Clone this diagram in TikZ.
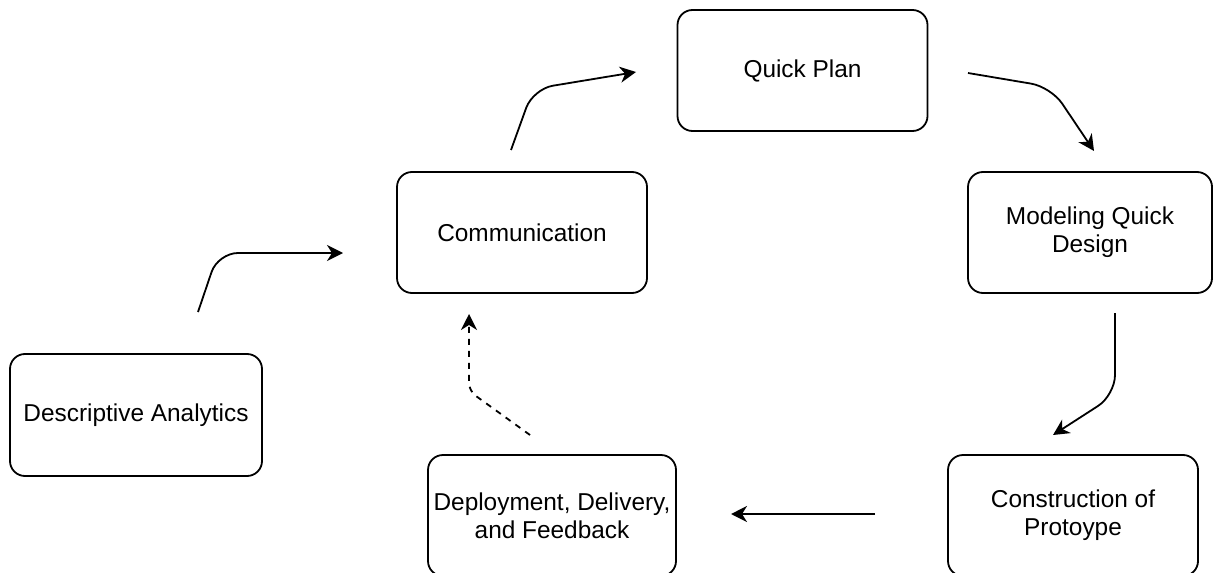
\documentclass[tikz,border=0pt]{standalone}
\usepackage{fontspec}
\setmainfont{Liberation Sans}
\usetikzlibrary{arrows.meta}

\begin{document}
\begin{tikzpicture}[x=0.5pt, y=-0.5pt, >={Stealth[length=8pt, width=8pt, inset=2.5pt]},
    block/.style={rectangle, draw, rounded corners=7.5pt, line width=0.9pt, minimum width=125pt, minimum height=60.5pt, align=center, inner sep=0pt, font=\fontsize{12.2}{14}\selectfont},
    line/.style={draw, ->, line width=0.9pt, rounded corners=10pt}]

    \useasboundingbox (0,0) rectangle (1213,572);
    \clip (0,0) rectangle (1213,572);

    % Stages of the cycle
    \node [block, minimum width=126pt, minimum height=61pt] (desc) at (136,415) {Descriptive Analytics};
    \node [block] (comm) at (522,232.5) {Communication};
    \node [block] (plan) at (802.5,70.5) {Quick Plan};
    \node [block, minimum width=122pt] (model) at (1090,232.5) {Modeling Quick\\Design};
    \node [block] (cons) at (1073,515.5) {Construction of\\Protoype};
    \node [block, minimum width=124pt] (deploy) at (552,515.5) {Deployment, Delivery,\\and Feedback};

    % Arrow end points
    \coordinate (descOut) at (198,312);
    \coordinate (commIn) at (343,253);
    \coordinate (commOut) at (511,150);
    \coordinate (planIn) at (636,72);
    \coordinate (planOut) at (968,73);
    \coordinate (modelIn) at (1094,151);
    \coordinate (modelOut) at (1115,313);
    \coordinate (consIn) at (1053,435);
    \coordinate (consOut) at (875,514);
    \coordinate (deployIn) at (731,514);
    \coordinate (deployOut) at (530,435);
    \coordinate (commBack) at (469,314);

    % Paths
    \path [line] (descOut) -- (218,253) -- (commIn);
    \path [line] (commOut) -- (533,89) -- (planIn);
    \path [line] (planOut) -- (1051,87) -- (modelIn);
    \path [line] (modelOut) -- (1115,395) -- (consIn);
    \path [line] (consOut) -- (deployIn);
    \path [line, dashed, dash pattern=on 3pt off 3pt, rounded corners=4pt] (deployOut) -- (469,391) -- (commBack);
\end{tikzpicture}
\end{document}
